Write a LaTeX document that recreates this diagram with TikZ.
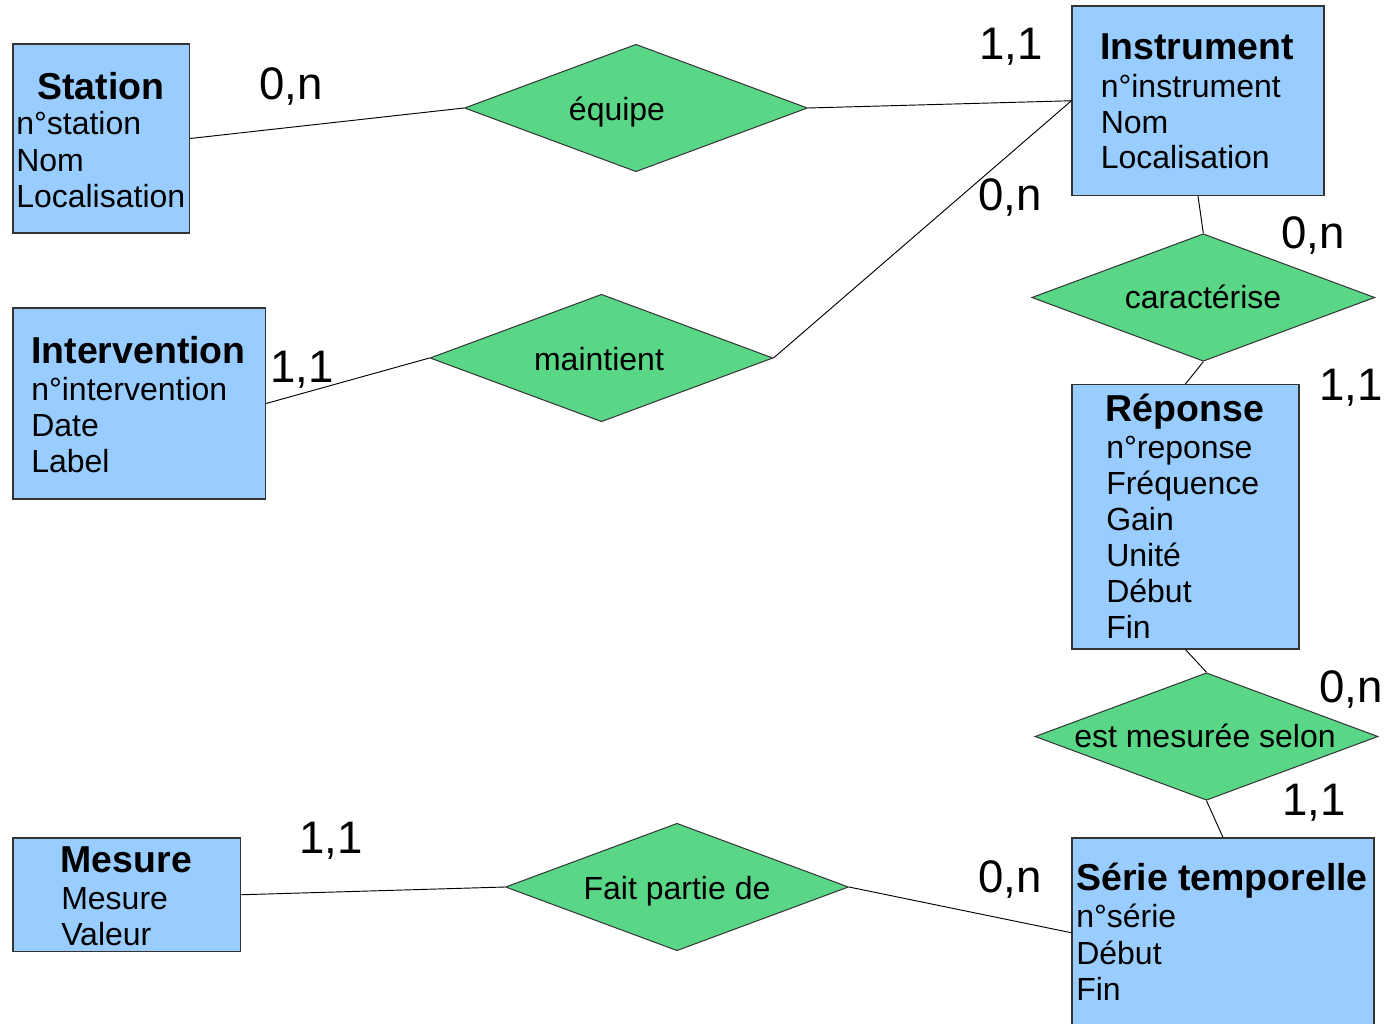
\documentclass[tikz,border=0pt]{standalone}
\usepackage{fontspec}
\setmainfont{Liberation Sans}
\usetikzlibrary{shapes.geometric,fit}
\definecolor{entityfill}{HTML}{99CCFF}
\definecolor{relfill}{HTML}{5AD687}
\definecolor{edgegray}{HTML}{333333}
\begin{document}
\begin{tikzpicture}[x=0.75pt,y=-0.75pt,
  entity/.style={draw=edgegray, fill=entityfill, line width=0.9pt, inner sep=0pt},
  relation/.style={diamond, draw=edgegray, fill=relfill, line width=0.75pt, inner sep=0pt,
                   minimum width=257.25pt, minimum height=95.6pt},
  link/.style={draw=black, line width=0.7pt},
  title/.style={font=\fontsize{28.1}{33}\selectfont\bfseries, inner sep=0pt, anchor=base west},
  attr/.style={font=\fontsize{24}{28}\selectfont, inner sep=0pt, anchor=base west},
  rlabel/.style={font=\fontsize{24}{28}\selectfont, inner sep=0pt, anchor=base},
  card/.style={font=\fontsize{34.2}{40}\selectfont, inner sep=0pt, anchor=base}]
\clip (0,0) rectangle (1388,1024);
\fill[white] (0,0) rectangle (1388,1024);

% ---------- entities ----------
\node[entity, fit={(13,44) (189.5,233)}] (station) {};
\node[title, anchor=base] (station-t) at (101,99) {Station};
\foreach \t [count=\i] in {n°station, Nom, Localisation}
  \node[attr] (station-a\i) at (16,{98+36.5*\i}) {\t};

\node[entity, fit={(13,308) (265.5,499)}] (intervention) {};
\node[title] (intervention-t) at (31,363) {Intervention};
\foreach \t [count=\i] in {n°intervention, Date, Label}
  \node[attr] (intervention-a\i) at (31,{364+36*\i}) {\t};

\node[entity, fit={(1072,6) (1324,195.5)}] (instrument) {};
\node[title] (instrument-t) at (1100,60) {Instrument};
\foreach \t [count=\i] in {n°instrument, Nom, Localisation}
  \node[attr] (instrument-a\i) at (1100.5,{62+35.5*\i}) {\t};

\node[entity, fit={(1072,384.5) (1299,649)}] (reponse) {};
\node[title] (reponse-t) at (1105.5,421) {Réponse};
\foreach \t [count=\i] in {n°reponse, Fréquence, Gain, Unité, Début, Fin}
  \node[attr] (reponse-a\i) at (1106,{422+36*\i}) {\t};

\node[entity, fit={(1072,838) (1374,1027.5)}] (serie) {};
\node[title] (serie-t) at (1076,890) {Série temporelle};
\foreach \t [count=\i] in {n°série, Début, Fin}
  \node[attr] (serie-a\i) at (1076,{891+36.5*\i}) {\t};

\node[entity, fit={(13,838) (240.5,951.5)}] (mesure) {};
\node[title] (mesure-t) at (60.5,872) {Mesure};
\foreach \t [count=\i] in {Mesure, Valeur}
  \node[attr] (mesure-a\i) at (61,{873+36*\i}) {\t};

% ---------- relations ----------
\node[relation] (equipe) at (636,108) {};
\node[rlabel] (equipe-t) at (617,120) {équipe};

\node[relation] (maintient) at (601.5,358) {};
\node[rlabel] (maintient-t) at (599,370) {maintient};

\node[relation] (caracterise) at (1203.3,297.5) {};
\node[rlabel] (caracterise-t) at (1203,308.5) {caractérise};

\node[relation] (mesuree) at (1206.5,736.5) {};
\node[rlabel] (mesuree-t) at (1205,747) {est mesurée selon};

\node[relation] (faitpartie) at (677,887) {};
\node[rlabel] (faitpartie-t) at (677,899) {Fait partie de};

% ---------- connectors ----------
\draw[link] (station.east) -- (equipe.west);
\draw[link] (equipe.east) -- (instrument.west);
\draw[link] (intervention.east) -- (maintient.west);
\draw[link] (maintient.east) -- (instrument.west);
\draw[link] (instrument.south) -- (caracterise.north);
\draw[link] (caracterise.south) -- (reponse.north);
\draw[link] (reponse.south) -- (mesuree.north);
\draw[link] (mesuree.south) -- (serie.north);
\draw[link] (mesure.east) -- (faitpartie.west);
\draw[link] (faitpartie.east) -- (serie.west);

% ---------- cardinalities ----------
\node[card] (c1) at (291,99) {0,n};
\node[card] (c2) at (1011,60) {1,1};
\node[card] (c3) at (1010,210) {0,n};
\node[card] (c4) at (1313,248) {0,n};
\node[card] (c5) at (302,382) {1,1};
\node[card] (c6) at (1351,400) {1,1};
\node[card] (c7) at (1351,702) {0,n};
\node[card] (c8) at (1314,815) {1,1};
\node[card] (c9) at (331,853) {1,1};
\node[card] (c10) at (1010,892) {0,n};
\end{tikzpicture}
\end{document}
